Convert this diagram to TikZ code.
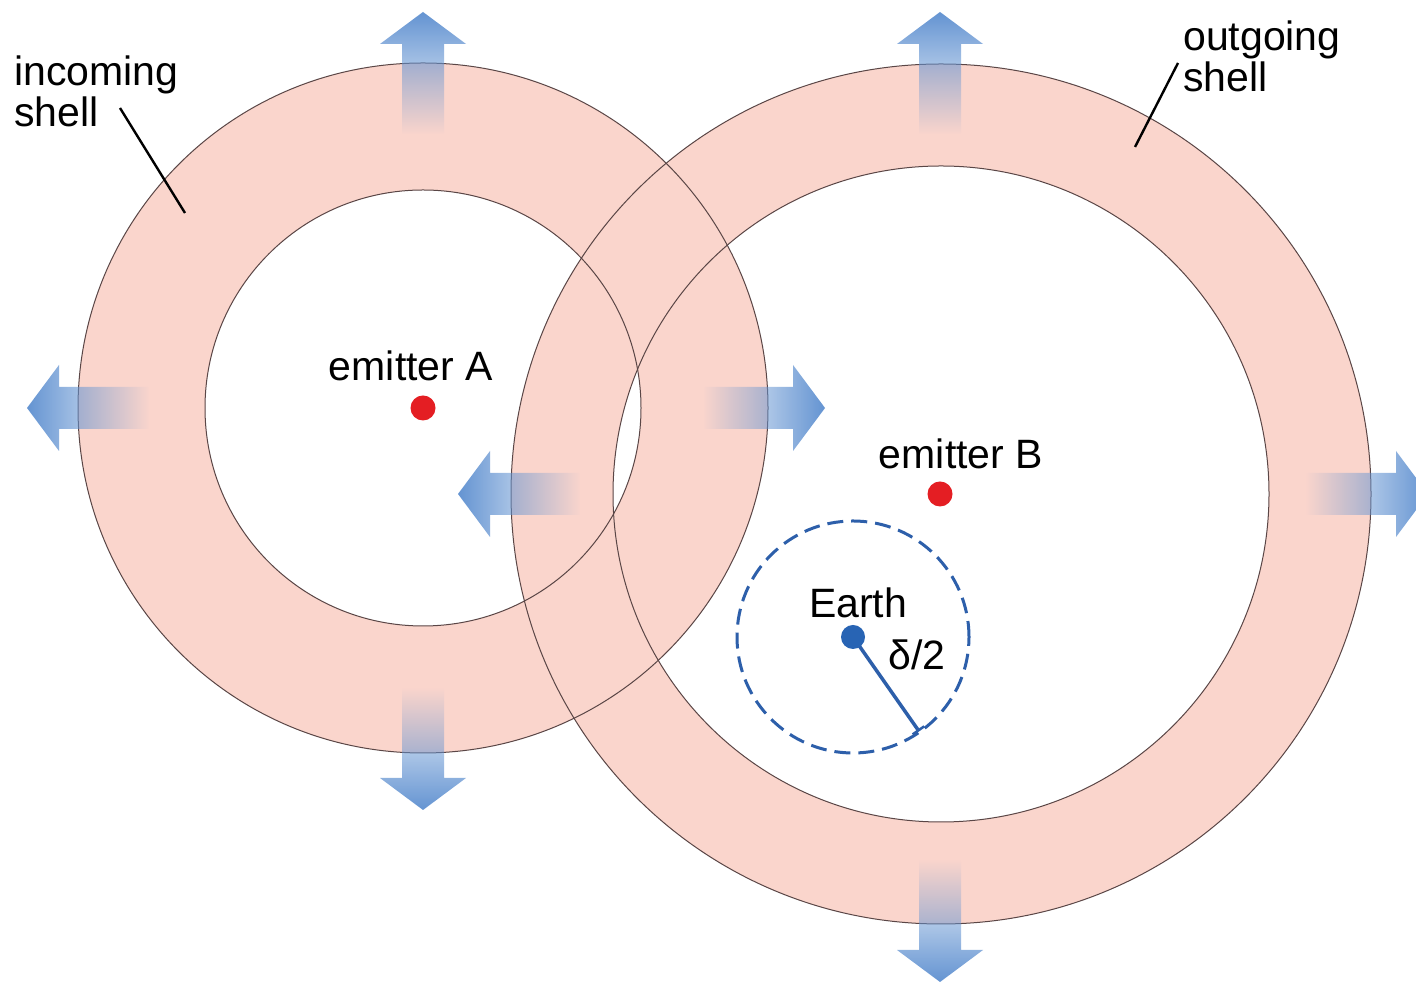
\documentclass[tikz,border=0pt]{standalone}
\usepackage{fontspec}
\setmainfont{Liberation Sans}
\usetikzlibrary{fadings,calc}
\definecolor{ringpink}{RGB}{250,213,204}
\definecolor{arrowblue}{RGB}{100,148,210}
\definecolor{earthblue}{RGB}{45,95,170}
\definecolor{earthdot}{RGB}{40,100,180}
\definecolor{dotred}{RGB}{228,30,35}
\definecolor{ringline}{RGB}{90,70,70}
\tikzfading[name=fadeE, left color=transparent!100, right color=transparent!0]
\tikzfading[name=fadeW, left color=transparent!0, right color=transparent!100]
\tikzfading[name=fadeN, bottom color=transparent!100, top color=transparent!0]
\tikzfading[name=fadeS, bottom color=transparent!0, top color=transparent!100]
\newcommand{\shellarrow}[5]{%
  \coordinate (#1) at (#2,#3);
  \fill[arrowblue, path fading=#5] (#1)
    -- ($(#1)+(#4+180:32)+(#4+90:43)$)
    -- ($(#1)+(#4+180:32)+(#4+90:21)$)
    -- ($(#1)+(#4+180:122)+(#4+90:21)$)
    -- ($(#1)+(#4+180:122)+(#4-90:21)$)
    -- ($(#1)+(#4+180:32)+(#4-90:21)$)
    -- ($(#1)+(#4+180:32)+(#4-90:43)$) -- cycle;}
\tikzset{
  lbl/.style={font=\fontsize{41}{41}\selectfont, inner sep=0pt, text=black},
  ringedge/.style={draw=ringline, line width=1pt},
  leader/.style={draw=black, line width=2.4pt},
  emitter/.style={circle, fill=dotred, minimum size=25pt, inner sep=0pt},
}
\begin{document}
\begin{tikzpicture}[x=1pt,y=1pt]
\useasboundingbox[fill=white] (0,0) rectangle (1416,984);
\coordinate (A) at (423,576);
\coordinate (B) at (941,490);
% shells
\fill[ringpink, even odd rule] (A) circle (345) (A) circle (218);
\fill[ringpink, even odd rule] (B) circle (430) (B) circle (328);
\draw[ringedge] (A) circle (345) (A) circle (218);
\draw[ringedge] (B) circle (430) (B) circle (328);
% arrows
\shellarrow{aN}{423}{972}{90}{fadeN}
\shellarrow{aW}{27}{576}{180}{fadeW}
\shellarrow{aE}{825}{576}{0}{fadeE}
\shellarrow{aS}{423}{174}{270}{fadeS}
\shellarrow{bW}{458}{490}{180}{fadeW}
\shellarrow{bN}{940}{972}{90}{fadeN}
\shellarrow{bE}{1428}{490}{0}{fadeE}
\shellarrow{bS}{940}{2}{270}{fadeS}
% emitters
\node[emitter] (eA) at (423,576) {};
\node[emitter] (eB) at (940,490) {};
\node[lbl, anchor=base] (lA) at (411,603) {emitter A};
\node[lbl, anchor=base] (lB) at (961,515) {emitter B};
% Earth
\coordinate (E) at (853,347);
\draw[earthblue, line width=3pt, dash pattern=on 16pt off 8pt] (E) circle (116);
\coordinate (Er) at ($(E)+(-55:114)$);
\draw[earthblue, line width=3.5pt] (E) -- (Er);
\draw[earthblue, line width=2.5pt] ($(Er)+(35:7)$) -- ($(Er)+(215:7)$);
\node[circle, fill=earthdot, minimum size=24pt, inner sep=0pt] (earth) at (E) {};
\node[lbl, anchor=base] (lE) at (858,366) {Earth};
\node[lbl, anchor=base] (ld) at (917,314) {δ/2};
% shell labels
\node[lbl, anchor=north west, align=left] (inc) at (14,928) {incoming\\shell};
\node[lbl, anchor=north west, align=left] (out) at (1183,963) {outgoing\\shell};
\coordinate (inc1) at (120,876);
\coordinate (inc2) at (185,771);
\coordinate (out1) at (1178,921);
\coordinate (out2) at (1135,837);
\draw[leader] (inc1) -- (inc2);
\draw[leader] (out1) -- (out2);
\end{tikzpicture}
\end{document}
